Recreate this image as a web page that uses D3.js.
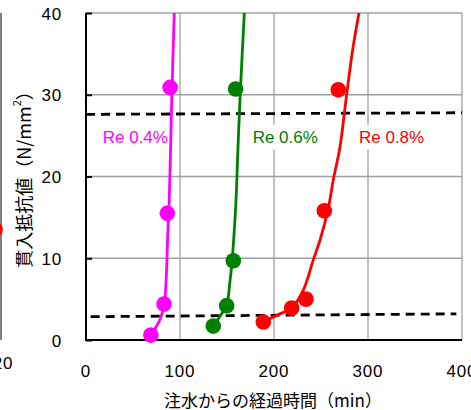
<!DOCTYPE html>
<html>
<head>
<meta charset="utf-8">
<script src="https://cdn.jsdelivr.net/npm/d3@7"></script>
<style>
  body { margin: 0; background: #fff; }
  svg { display: block; }
  text { font-family: "Liberation Sans", Arial, sans-serif; }
  .jp { font-family: "Noto Sans CJK JP", sans-serif; }
</style>
</head>
<body>
<svg width="471" height="410"></svg>
<script>
// axis ticks
var timeTicks = [0, 100, 200, 300, 400];
var resTicks = [0, 10, 20, 30, 40];

// measured points (time in min, resistance in N/mm2)
var re04Time = [69, 83, 86.5, 89.5];
var re04Res = [0.6, 4.4, 15.5, 30.9];
var re06Time = [135.4, 149.6, 156.7, 159.2];
var re06Res = [1.7, 4.2, 9.7, 30.7];
var re08Time = [188.6, 218.8, 234, 253.5, 268.4];
var re08Res = [2.2, 3.9, 5.0, 15.8, 30.6];

// fitted curves
var re04CurveTime = [69.1, 78.7, 83.3, 85.5, 87, 88.5, 89.7, 91.2, 93.9];
var re04CurveRes = [0.6, 2.5, 4.4, 8, 13, 17, 22, 29.4, 40];
var re06CurveTime = [135.4, 143, 149.7, 153, 155.3, 157.5, 159.6, 161.5, 163.8, 168.4];
var re06CurveRes = [1.7, 3, 4.3, 7, 9.5, 13, 17.1, 23, 29.4, 40];
var re08CurveTime = [188.6, 206.4, 218.8, 231.2, 241.8, 248.9, 257.4, 263.1, 270.2, 276.6, 283.7, 290.4];
var re08CurveRes = [2.2, 3.2, 3.9, 6.1, 9.8, 12.2, 15.9, 19.6, 23.6, 29.4, 35.5, 40];

// setting limits (dashed)
var upperLimitTime = [0, 400];
var upperLimitRes = [27.6, 27.8];
var lowerLimitTime = [5, 394];
var lowerLimitRes = [2.85, 3.2];

var seriesNames = ['Re 0.4%', 'Re 0.6%', 'Re 0.8%'];
var seriesColors = ['#ff00ff', '#008000', '#ff0000'];
var labelTime = [17.8, 177.3, 290.4];
var labelRes = [24.8, 24.8, 24.8];

// cut-off piece of the neighbouring chart on the left
var neighbourTime = [19.7];
var neighbourRes = [13.5];

var svg = d3.select("svg");
var plotLeft = 86, plotRight = 462, plotTop = 13, plotBottom = 340;

var x = d3.scaleLinear().domain([0, 400]).range([plotLeft, plotRight]);
var y = d3.scaleLinear().domain([0, 40]).range([plotBottom, plotTop]);
var xn = d3.scaleLinear().domain([0, 20]).range([-376, 1]);

// neighbour remnant
svg.append("line")
    .attr("x1", xn(20)).attr("x2", xn(20))
    .attr("y1", y(40)).attr("y2", y(0))
    .attr("stroke", "#555").attr("stroke-width", 1.5);
svg.selectAll(".ndot")
    .data(neighbourTime)
    .enter().append("circle")
    .attr("cx", function (d) { return xn(d); })
    .attr("cy", function (d, i) { return y(neighbourRes[i]); })
    .attr("r", 7.5)
    .attr("fill", "#ff0000");
svg.append("text")
    .attr("x", xn(20) + 2).attr("y", 363)
    .attr("text-anchor", "middle").attr("dominant-baseline", "central")
    .attr("font-size", 17).attr("letter-spacing", 0.8)
    .text("20");

// grid
svg.append("g").selectAll("line")
    .data(timeTicks.slice(1))
    .enter().append("line")
    .attr("x1", function (d) { return x(d); }).attr("x2", function (d) { return x(d); })
    .attr("y1", plotTop).attr("y2", plotBottom)
    .attr("stroke", "#a0a0a0").attr("stroke-width", 1.3);
svg.append("g").selectAll("line")
    .data(resTicks.slice(1))
    .enter().append("line")
    .attr("x1", plotLeft).attr("x2", plotRight)
    .attr("y1", function (d) { return y(d); }).attr("y2", function (d) { return y(d); })
    .attr("stroke", "#a0a0a0").attr("stroke-width", 1.3);

// axes (inner ticks)
var yAxis = d3.axisRight(y).tickValues(resTicks).tickSize(6).tickFormat("");
svg.append("g").attr("transform", "translate(" + plotLeft + ",0)").call(yAxis)
    .call(function (g) {
        g.select(".domain").remove();
        g.selectAll("line").attr("stroke", "#000").attr("stroke-width", 2);
    });
svg.append("line").attr("x1", plotLeft).attr("x2", plotLeft).attr("y1", plotTop).attr("y2", plotBottom + 1)
    .attr("stroke", "#000").attr("stroke-width", 2);
svg.append("line").attr("x1", plotLeft - 1).attr("x2", plotRight).attr("y1", plotBottom).attr("y2", plotBottom)
    .attr("stroke", "#000").attr("stroke-width", 2);

// tick labels
svg.append("g").selectAll("text")
    .data(resTicks)
    .enter().append("text")
    .attr("x", plotLeft - 24).attr("y", function (d) { return y(d) + 1; })
    .attr("text-anchor", "end").attr("dominant-baseline", "central")
    .attr("font-size", 17).attr("letter-spacing", 0.8)
    .text(function (d) { return d; });
svg.append("g").selectAll("text")
    .data(timeTicks)
    .enter().append("text")
    .attr("x", function (d) { return x(d); }).attr("y", plotBottom + 31)
    .attr("text-anchor", "middle").attr("dominant-baseline", "central")
    .attr("font-size", 17).attr("letter-spacing", 0.8)
    .text(function (d) { return d; });

// axis titles
svg.append("text").attr("class", "jp")
    .attr("x", 273).attr("y", 399)
    .attr("text-anchor", "middle").attr("dominant-baseline", "central")
    .attr("font-size", 17)
    .text("注水からの経過時間（min）");
var yt = svg.append("text").attr("class", "jp")
    .attr("transform", "translate(23,175) rotate(-90)")
    .attr("text-anchor", "middle").attr("dominant-baseline", "central")
    .attr("font-size", 18);
yt.append("tspan").text("貫入抵抗値（N/mm");
yt.append("tspan").attr("font-size", 11).attr("dy", -7).text("2");
yt.append("tspan").attr("dy", 7).text("）");

// dashed limit lines
var line = d3.line()
    .x(function (d) { return x(d[0]); })
    .y(function (d) { return y(d[1]); });
[[upperLimitTime, upperLimitRes], [lowerLimitTime, lowerLimitRes]].forEach(function (s) {
    svg.append("path")
        .attr("d", line(d3.zip(s[0], s[1])))
        .attr("fill", "none").attr("stroke", "#000")
        .attr("stroke-width", 2.8).attr("stroke-dasharray", "9,6");
});

// labels with white boxes
seriesNames.forEach(function (name, i) {
    var g = svg.append("g");
    var t = g.append("text")
        .attr("x", x(labelTime[i])).attr("y", y(labelRes[i]))
        .attr("dominant-baseline", "central")
        .attr("font-size", 17)
        .attr("fill", seriesColors[i])
        .text(name);
    var b = t.node().getBBox();
    g.insert("rect", "text")
        .attr("x", b.x - 2).attr("y", b.y - 3)
        .attr("width", b.width + 4).attr("height", b.height + 6)
        .attr("fill", "#fff");
});

// curves and points
var curve = d3.line()
    .x(function (d) { return x(d[0]); })
    .y(function (d) { return y(d[1]); })
    .curve(d3.curveCatmullRom);
var curves = [[re04CurveTime, re04CurveRes], [re06CurveTime, re06CurveRes], [re08CurveTime, re08CurveRes]];
var points = [[re04Time, re04Res], [re06Time, re06Res], [re08Time, re08Res]];

curves.forEach(function (c, i) {
    svg.append("path")
        .attr("d", curve(d3.zip(c[0], c[1])))
        .attr("fill", "none").attr("stroke", seriesColors[i])
        .attr("stroke-width", 2.8);
});
points.forEach(function (p, i) {
    svg.append("g").selectAll("circle")
        .data(d3.zip(p[0], p[1]))
        .enter().append("circle")
        .attr("cx", function (d) { return x(d[0]); })
        .attr("cy", function (d) { return y(d[1]); })
        .attr("r", 7.8)
        .attr("fill", seriesColors[i]);
});
</script>
</body>
</html>
